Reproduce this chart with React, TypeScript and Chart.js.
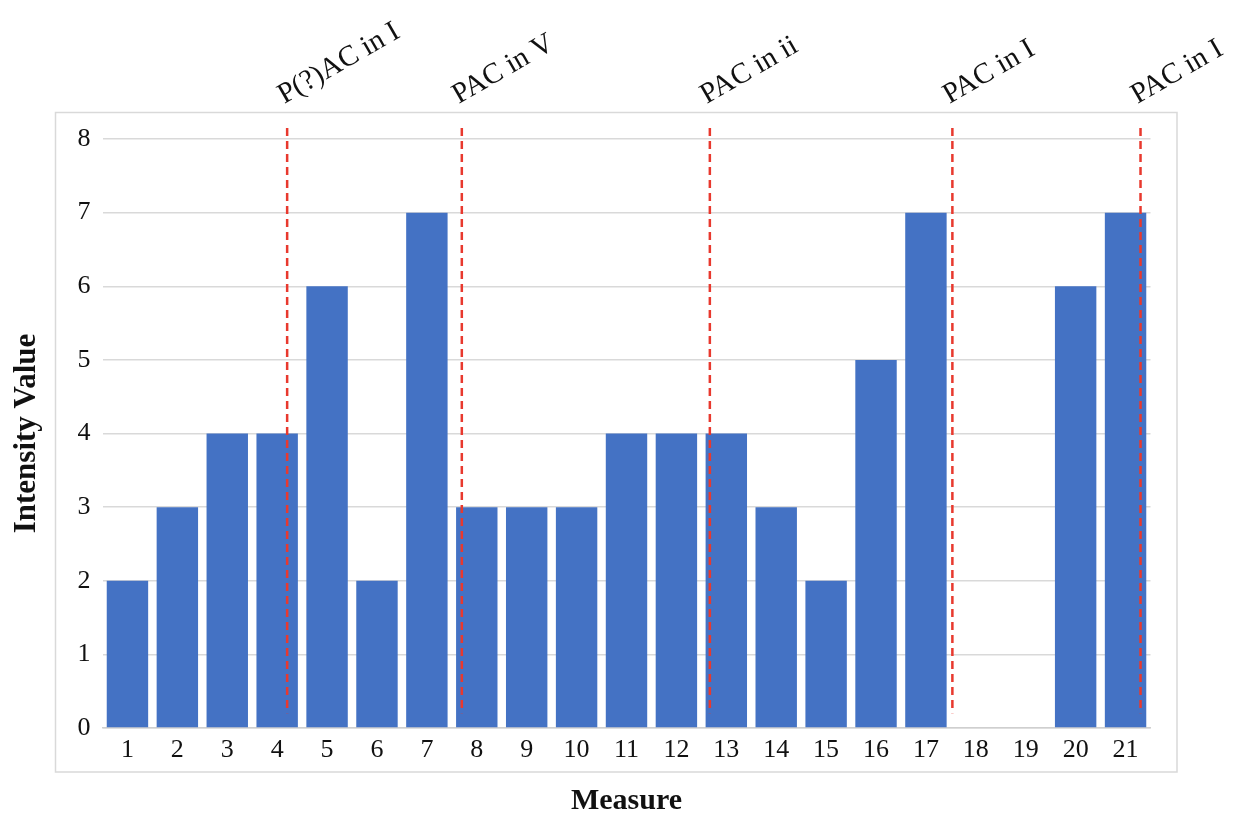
import React, { useEffect, useRef } from "react";
import { Chart, registerables } from "chart.js";

Chart.register(...registerables);

// measures 1..21
const measures = ["1", "2", "3", "4", "5", "6", "7", "8", "9", "10", "11", "12", "13", "14", "15", "16", "17", "18", "19", "20", "21"];
const intensity = [2, 3, 4, 4, 6, 2, 7, 3, 3, 3, 4, 4, 4, 3, 2, 5, 7, null, null, 6, 7];
const yTicks = [0, 1, 2, 3, 4, 5, 6, 7, 8];

// cadence markers (measure position, label)
const cadencePos = [4.2, 7.7, 12.67, 17.53, 21.3];
const cadenceLabels = ["P(?)AC in I", "PAC in V", "PAC in ii", "PAC in I", "PAC in I"];

const FONT = "'Liberation Serif', 'Times New Roman', serif";

const App: React.FC = () => {
  const canvasRef = useRef<HTMLCanvasElement | null>(null);

  useEffect(() => {
    if (!canvasRef.current) return;
    const ctx = canvasRef.current.getContext("2d");
    if (!ctx) return;

    const chart = new Chart(ctx, {
      type: "bar",
      data: {
        labels: measures,
        datasets: [
          {
            label: "Intensity",
            data: intensity,
            backgroundColor: "#4472C4",
            barPercentage: 0.83,
            categoryPercentage: 1,
          },
        ],
      },
      options: {
        responsive: false,
        animation: false,
        layout: { padding: { left: 0, top: 139, right: 96.5, bottom: 0 } },
        plugins: { legend: { display: false }, tooltip: { enabled: false } },
        scales: {
          x: {
            grid: { display: false },
            border: { display: true, color: "#cfcfcf", width: 1.5 },
            ticks: { color: "#111", font: { family: FONT, size: 26 }, padding: -1, maxRotation: 0 },
            title: {
              display: true,
              text: "Measure",
              color: "#111",
              font: { family: FONT, size: 30, weight: "bold" },
              padding: { top: 0, bottom: 8 },
            },
            afterFit: (scale: any) => {
              scale.height = 99;
            },
          },
          y: {
            min: 0,
            max: 8,
            afterBuildTicks: (scale: any) => {
              scale.ticks = yTicks.map((v) => ({ value: v }));
            },
            grid: { color: "#d9d9d9", lineWidth: 1.5, drawTicks: false },
            border: { display: false },
            ticks: { color: "#111", font: { family: FONT, size: 26 }, padding: 12 },
            title: {
              display: true,
              text: "Intensity Value",
              color: "#111",
              font: { family: FONT, size: 31, weight: "bold" },
              padding: { top: 8, bottom: 0 },
            },
            afterFit: (scale: any) => {
              scale.width = 102.5;
            },
          },
        },
      },
      plugins: [
        {
          id: "frame",
          beforeDraw: (c) => {
            const g = c.ctx;
            g.save();
            g.fillStyle = "#ffffff";
            g.fillRect(0, 0, c.width, c.height);
            g.strokeStyle = "#d9d9d9";
            g.lineWidth = 1.5;
            g.strokeRect(55.5, 112.5, 1121.5, 659.5);
            g.restore();
          },
        },
        {
          id: "cadences",
          afterDatasetsDraw: (c) => {
            const g = c.ctx;
            const xs = c.scales.x;
            const ys = c.scales.y;
            const top = ys.getPixelForValue(8.15);
            const bottom = ys.getPixelForValue(0.2);
            cadencePos.forEach((m, i) => {
              const x = xs.getPixelForValue(m - 1);
              g.save();
              g.strokeStyle = "#e8392e";
              g.lineWidth = 2.5;
              g.setLineDash([8, 5]);
              g.beginPath();
              g.moveTo(x, top);
              g.lineTo(x, bottom);
              g.stroke();
              g.restore();

              g.save();
              g.translate(x - 3, c.chartArea.top - 35);
              g.rotate(-Math.PI / 6);
              g.fillStyle = "#111";
              g.font = `29px ${FONT}`;
              g.textAlign = "left";
              g.textBaseline = "alphabetic";
              g.fillText(cadenceLabels[i], 0, 0);
              g.restore();
            });
          },
        },
      ],
    });

    return () => {
      chart.destroy();
    };
  }, []);

  return (
    <div style={{ position: "absolute", left: 0, top: 0, width: 1247, height: 827 }}>
      <canvas ref={canvasRef} width={1247} height={827}></canvas>
    </div>
  );
};

export default App;
